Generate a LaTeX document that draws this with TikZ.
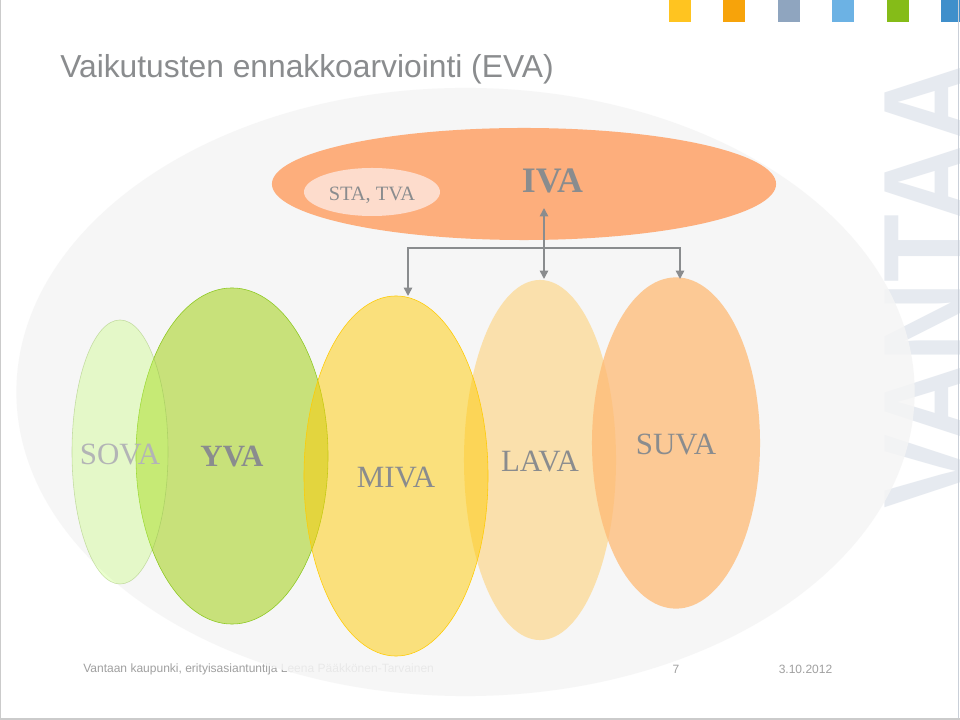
\documentclass[tikz,border=0pt]{standalone}
\usepackage{xcolor}
\usepackage{fontspec}
\setmainfont{Liberation Serif}
\newfontfamily\arialfont{Liberation Sans}
\usetikzlibrary{arrows.meta,shapes.geometric}
\definecolor{vantaaGray}{HTML}{8A8C8E}
\definecolor{vantaaMark}{HTML}{E6EAF0}
\definecolor{vantaaFrame}{HTML}{C9CFD8}
\definecolor{frameGray}{HTML}{CBCBCB}
\definecolor{footGray}{HTML}{A0A0A0}
\definecolor{shadeFill}{HTML}{F5F5F5}
\definecolor{ivaOrange}{HTML}{FDAE7C}
\definecolor{staPeach}{HTML}{FDDCCC}
\definecolor{sovaGreen}{HTML}{C2FF6D}
\definecolor{yvaGreen}{HTML}{AAD428}
\definecolor{yvaEdge}{HTML}{8CC820}
\definecolor{mivaYellow}{HTML}{FFCB03}
\definecolor{lavaSand}{HTML}{FFCB63}
\definecolor{suvaOrange}{HTML}{FFBA75}
\begin{document}
\begin{tikzpicture}[
  x=0.025cm,y=-0.025cm,
  oval/.style={ellipse,inner sep=0pt,fill opacity=0.5},
  ovaltext/.style={inner sep=0pt,text=vantaaGray,font=\fontsize{22}{22}\selectfont},
  foot/.style={inner sep=0pt,text=footGray,font=\arialfont\fontsize{8.55}{8.55}\selectfont},
  tab/.style={minimum width=0.55cm,minimum height=0.55cm,inner sep=0pt,anchor=north west},
  arrow/.style={-{Triangle[length=2.1mm,width=2.1mm]},line width=0.4mm,color=vantaaGray}
]
\path[use as bounding box,clip] (0,0) rectangle (960,720);
\fill[white] (0,0) rectangle (960,720);
% footer and watermark lie under the big shade
\node[foot,anchor=west] (author) at (83,669) {Vantaan kaupunki, erityisasiantuntija Leena Pääkkönen-Tarvainen};
\node[foot] (page) at (676,669) {7};
\node[foot] (date) at (805.5,669) {3.10.2012};
\node[inner sep=0pt,rotate=90,yscale=1.12,transform shape,anchor=base,text=vantaaMark,font=\arialfont\bfseries\fontsize{79}{79}\selectfont] (mark) at (970,285.5) {VANTAA};
\node[ellipse,inner sep=0pt,fill=shadeFill,fill opacity=0.85,minimum width=22.45cm,minimum height=15.2cm] (shade) at (465.5,392) {};
% ovals
\node[oval,fill=yvaGreen,draw=yvaEdge,fill opacity=0.6,minimum width=4.8cm,minimum height=8.4cm] (yva) at (232,456) {};
\node[oval,fill=sovaGreen,draw=sovaGreen!70!black,draw opacity=0.4,fill opacity=0.33,minimum width=2.4cm,minimum height=6.6cm] (sova) at (120,452) {};
\node[oval,fill=lavaSand,minimum width=3.8cm,minimum height=9cm] (lava) at (540,460) {};
\node[oval,fill=mivaYellow,draw=mivaYellow,minimum width=4.6cm,minimum height=9cm] (miva) at (396,476) {};
\node[oval,fill=suvaOrange,fill opacity=0.75,minimum width=4.2cm,minimum height=8.28cm] (suva) at (676,443) {};
\node[ovaltext,text=vantaaGray!65] (sovatext) at (120,454) {SOVA};
\node[ovaltext,font=\fontsize{22}{22}\selectfont\bfseries] (yvatext) at (232,457) {YVA};
\node[ovaltext] (mivatext) at (396,478) {MIVA};
\node[ovaltext] (lavatext) at (540,462) {LAVA};
\node[ovaltext] (suvatext) at (676,444.5) {SUVA};
\node[ellipse,inner sep=0pt,fill=ivaOrange,minimum width=12.6cm,minimum height=2.8cm] (iva) at (524,184) {};
\node[ellipse,inner sep=0pt,fill=staPeach,minimum width=3.4cm,minimum height=1.2cm] (sta) at (372,192) {};
\node[ovaltext,font=\fontsize{14.5}{14.5}\selectfont] (statext) at (372,195) {STA, TVA};
\node[ovaltext,font=\fontsize{25.5}{25.5}\selectfont\bfseries] (ivatext) at (552.5,181) {IVA};
% connectors
\coordinate (ivatip) at (544,208);
\coordinate (busmid) at (544,248);
\coordinate (mivatip) at (408,296);
\coordinate (lavatip) at (544,279);
\coordinate (suvatip) at (680,279);
\draw[arrow] (busmid) -- (ivatip);
\draw[arrow] (busmid) -- (lavatip);
\draw[arrow] (busmid) -| (mivatip);
\draw[arrow] (busmid) -| (suvatip);
% title
\node[inner sep=0pt,anchor=west,text=vantaaGray,font=\arialfont\fontsize{22.6}{22.6}\selectfont] (title) at (60,69) {Vaikutusten ennakkoarviointi (EVA)};
% colour tabs along the top edge
\node[tab,fill={rgb,255:red,255;green,196;blue,32}] (tab1) at (669,0) {};
\node[tab,fill={rgb,255:red,247;green,163;blue,10}] (tab2) at (723,0) {};
\node[tab,fill={rgb,255:red,143;green,165;blue,191}] (tab3) at (778,0) {};
\node[tab,fill={rgb,255:red,108;green,178;blue,228}] (tab4) at (832,0) {};
\node[tab,fill={rgb,255:red,133;green,188;blue,24}] (tab5) at (887,0) {};
\node[tab,fill={rgb,255:red,63;green,143;blue,203}] (tab6) at (941,0) {};
% slide frame
\draw[vantaaFrame,line width=0.04cm] (958.5,0) -- (958.5,720);
\draw[frameGray,line width=0.03cm] (0.5,0) -- (0.5,720);
\draw[frameGray,line width=0.04cm] (0,719) -- (960,719);
\end{tikzpicture}
\end{document}
